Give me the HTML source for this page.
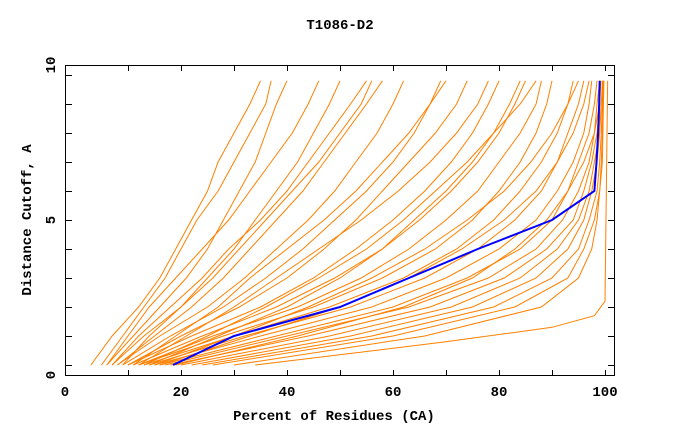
<!DOCTYPE html>
<html><head><meta charset="utf-8"><style>
body{margin:0;background:#fff}
svg text{font-family:"Liberation Mono",monospace;font-weight:bold;font-size:14px;fill:#000}
</style></head><body>
<svg id="chart" width="680" height="440">
<text x="340" y="29" text-anchor="middle">T1086-D2</text>
<text x="334" y="420" text-anchor="middle">Percent of Residues (CA)</text>
<text transform="translate(31,220) rotate(-90)" text-anchor="middle">Distance Cutoff, A</text>
<g id="lines"></g>
<g id="axes"></g>
</svg>
<script>
const levels=[0,1,2,3,4,5,6,7,8,9,9.8];
const xTicks=[0,20,40,60,80,100];
const yTicks=[0,5,10];
const models=[
[3,7,12,16,19,22,25,27,30,33,35],
[5,9,13,17,20,23,27,30,33,36,37],
[6,11,16,21,25,28,31,34,36,38,40],
[7,13,20,25,30,34,38,42,45,48,50],
[8,15,22,28,33,38,43,47,51,55,58],
[8,16,25,32,38,44,49,53,57,60,62],
[9,18,28,36,43,49,55,60,64,67,69],
[10,20,31,40,47,53,58,63,68,72,74],
[10,22,35,45,53,60,66,71,75,78,80],
[11,24,38,49,58,65,71,76,80,83,85],
[12,26,42,54,63,70,76,80,84,87,88],
[12,28,45,58,68,75,80,84,87,89,90],
[13,30,48,62,72,79,84,88,91,93,94],
[14,32,52,66,76,83,88,91,93,95,96],
[15,35,56,70,80,87,91,94,96,97,97.5],
[16,38,60,74,84,90,93,95,97,98,98.5],
[17,40,63,78,87,92,95,97,98,98.5,99],
[18,44,67,81,89,94,96,97.5,98.5,99,99],
[20,48,71,84,91,95,97,98,99,99,99.2],
[22,52,75,87,93,96,97.5,98.5,99,99.3,99.5],
[24,56,79,90,95,97,98.5,99,99.3,99.5,99.6],
[26,60,83,93,96,98,99,99.3,99.5,99.6,99.7],
[30,66,88,95,97.5,98.5,99,99.5,99.6,99.7,99.8],
[9,14,20,26,31,36,41,46,50,54,56],
[7,12,18,24,29,35,40,44,48,52,55],
[11,19,27,33,40,47,53,58,63,67,70],
[14,27,40,50,58,64,70,75,79,82,84],
[13,25,36,46,55,62,68,74,79,84,87],
[16,33,50,63,73,81,87,91,94,96,97],
[19,42,62,75,83,89,93,96,98,99,99],
[15,30,44,56,66,74,81,86,90,93,95],
[12,21,30,38,46,54,61,67,72,76,78],
[6,10,14,19,24,29,33,37,41,44,46]
];
const lowX=[34,70,90,98,100,100.5];
const lowY=[0,0.8,1.3,1.7,2.2,9.8];
const bestX=[18.5,30,50,63,76,90,98,98.4,98.7,98.9,99];
const sx=v=>75+5.3*v, sy=v=>365-29*v;
const NS="http://www.w3.org/2000/svg";
const g=document.getElementById('lines'), ax=document.getElementById('axes');
function poly(xs,ys,color,w,name){
  const p=document.createElementNS(NS,'polyline');
  p.setAttribute('points',xs.map((x,i)=>sx(x)+','+sy(ys[i])).join(' '));
  p.setAttribute('fill','none');p.setAttribute('stroke',color);p.setAttribute('stroke-width',w);
  
  
  g.appendChild(p);
}
models.forEach(m=>poly(m,levels,'#ff8000',1,'model-line'));
poly(lowX,lowY,'#ff8000',1,'model-line');
poly(bestX,levels,'#0000ff',2,'best-model-line');
function line(x1,y1,x2,y2,name){
  const l=document.createElementNS(NS,'line');
  l.setAttribute('x1',x1);l.setAttribute('y1',y1);l.setAttribute('x2',x2);l.setAttribute('y2',y2);
  l.setAttribute('stroke','#000');l.setAttribute('stroke-width',1);
  
  
  ax.appendChild(l);
}
const frame=document.createElementNS(NS,'rect');
frame.setAttribute('x',65.5);frame.setAttribute('y',65.5);frame.setAttribute('width',549);frame.setAttribute('height',310);
frame.setAttribute('fill','none');frame.setAttribute('stroke','#000');


ax.appendChild(frame);
for(let v=10;v<=100;v+=10){const x=Math.round(sx(v))+0.5;line(x,375,x,370,'x-tick');line(x,66,x,71,'x-tick');}
for(let v=0;v<=10;v++){const y=Math.round(sy(v))+0.5;line(66,y,72,y,'y-tick');line(614,y,608,y,'y-tick');}
function txt(x,y,s,anchor,name){
  const t=document.createElementNS(NS,'text');
  t.setAttribute('x',x);t.setAttribute('y',y);t.setAttribute('text-anchor',anchor);t.textContent=s;
  
  
  ax.appendChild(t);
}
xTicks.forEach(v=>txt(v===0?65:sx(v),396,String(v),'middle','x-tick-label'));
yTicks.forEach(v=>{const y=v===0?375:(v===10?65:sy(v));
  const t=document.createElementNS(NS,'text');
  t.setAttribute('transform','translate(55,'+y+') rotate(-90)');t.setAttribute('text-anchor','middle');t.textContent=String(v);
  
  
  ax.appendChild(t);});
</script>
</body></html>
